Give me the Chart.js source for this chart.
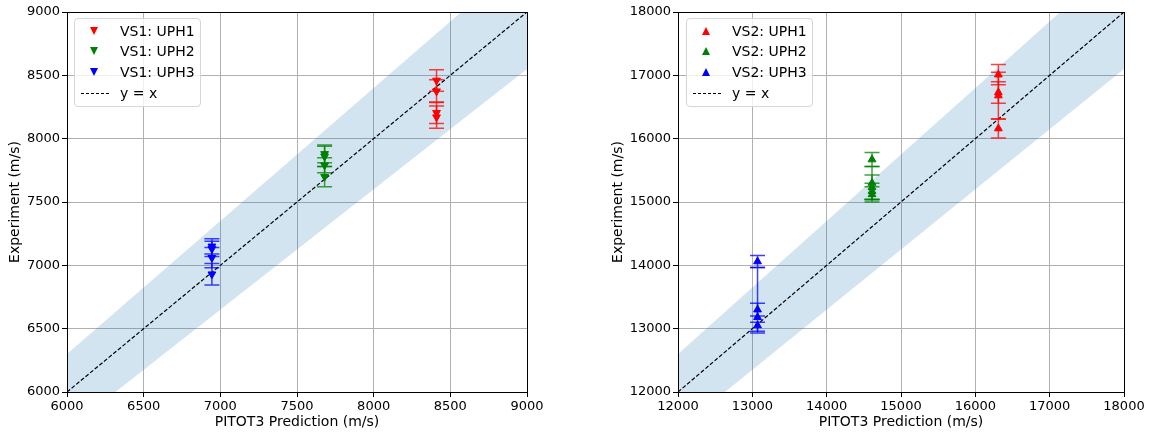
<!DOCTYPE html>
<html>
<head>
<meta charset="utf-8">
<script src="https://cdn.jsdelivr.net/npm/chart.js@4"></script>
<style>
  body { margin: 0; background: #fff; }
  #wrap { position: relative; width: 1150px; height: 432px; font-family: 'DejaVu Sans', sans-serif; }
  canvas { position: absolute; top: 0; }
  .legend { position: absolute; top: 18px; width: 127px; height: 89px; border: 1px solid #d6d6d6;
            border-radius: 4px; background: rgba(255,255,255,0.8); box-sizing: border-box; }
  .row { position: absolute; left: 0; height: 20px; line-height: 20px; font-size: 14px; color: #000; white-space: nowrap; }
  .row span { position: absolute; left: 45px; top: 0; }
  .tri { position: absolute; left: 15px; top: 6px; width: 0; height: 0;
         border-left: 4px solid transparent; border-right: 4px solid transparent; }
  .down { border-top: 8px solid; }
  .up { border-bottom: 8px solid; }
  .dash { position: absolute; left: 6px; top: 10px; width: 28px; border-top: 1.3px dashed #000; }
</style>
</head>
<body>
<div id="wrap">
  <canvas id="leftChart" width="575" height="432" style="left:0"></canvas>
  <canvas id="rightChart" width="575" height="432" style="left:575px"></canvas>
  <div class="legend" id="leftLegend" style="left:74px"></div>
  <div class="legend" id="rightLegend" style="left:686px"></div>
</div>
<script>
//series names and colours
const vs1Names = ["VS1: UPH1", "VS1: UPH2", "VS1: UPH3"];
const vs2Names = ["VS2: UPH1", "VS2: UPH2", "VS2: UPH3"];
const groupColors = ["#ff0000", "#008000", "#0000ff"];

//left chart (VS1) values, errors are +/- or [below, above]
const vs1X = [8410, 7680, 6945];
const vs1Uph1 = [8460, 8375, 8205, 8170];
const vs1Uph1Err = [85, 90, 85, 88];
const vs1Uph2 = [7880, 7860, 7790, 7700];
const vs1Uph2Err = [70, 80, 60, 80];
const vs1Uph3 = [7150, 7130, 7060, 6930];
const vs1Uph3Err = [60, 60, 80, 85];

//right chart (VS2) values
const vs2X = [16310, 14610, 13070];
const vs2Uph1 = [17010, 16730, 16680, 16160];
const vs2Uph1Err = [160, 170, 370, 150];
const vs2Uph2 = [15670, 15300, 15230, 15170, 15120];
const vs2Uph2Err = [110, 260, 195, 125, 120];
const vs2Uph3 = [14060, 13300, 13180, 13050];
const vs2Uph3Err = [95, [100, 665], 220, [120, 50]];

//y = x line and the shaded band around it (end points)
const vs1LineX = [6000, 9000];
const vs1BandLo = [5700, 8550];
const vs1BandHi = [6300, 9450];
const vs2LineX = [12000, 18000];
const vs2BandLo = [11400, 17100];
const vs2BandHi = [12600, 18900];

//axis ranges and ticks
const vs1Range = [6000, 9000, 500];
const vs2Range = [12000, 18000, 1000];

Chart.defaults.font.family = "'DejaVu Sans', sans-serif";
Chart.defaults.color = "#000";

//draws the error bars just after the y = x line, so markers end up on top
const errorBars = {
  id: "errorBars",
  afterDatasetDraw(chart, args) {
    if (chart.data.datasets[args.index].label !== "y = x") return;
    const ctx = chart.ctx;
    const xs = chart.scales.x, ys = chart.scales.y;
    const area = chart.chartArea;
    ctx.save();
    ctx.beginPath();
    ctx.rect(area.left, area.top, area.right - area.left, area.bottom - area.top);
    ctx.clip();
    chart.data.datasets.forEach(ds => {
      if (!ds.errors) return;
      ctx.strokeStyle = ds.backgroundColor;
      ctx.globalAlpha = 0.75;
      ctx.lineWidth = 1.5;
      ds.data.forEach((p, i) => {
        const e = ds.errors[i];
        const below = Array.isArray(e) ? e[0] : e;
        const above = Array.isArray(e) ? e[1] : e;
        const px = xs.getPixelForValue(p.x);
        const top = ys.getPixelForValue(p.y + above);
        const bot = ys.getPixelForValue(p.y - below);
        ctx.beginPath();
        ctx.moveTo(px, top); ctx.lineTo(px, bot);
        ctx.moveTo(px - 7.5, top); ctx.lineTo(px + 7.5, top);
        ctx.moveTo(px - 7.5, bot); ctx.lineTo(px + 7.5, bot);
        ctx.stroke();
      });
    });
    ctx.restore();
  }
};

//black frame round the plot area
const frame = {
  id: "frame",
  afterDraw(chart) {
    const a = chart.chartArea, ctx = chart.ctx;
    ctx.save();
    ctx.strokeStyle = "#000";
    ctx.lineWidth = 1;
    ctx.strokeRect(Math.round(a.left) + 0.5, Math.round(a.top) + 0.5,
      Math.round(a.right - a.left), Math.round(a.bottom - a.top));
    ctx.restore();
  }
};

function pts(x, ys) {
  return ys.map(y => ({ x: x, y: y }));
}

function makeChart(id, names, xs, series, errs, lineX, bandLo, bandHi, range, rotation, pad, yWidth) {
  const datasets = [];
  series.forEach((s, i) => {
    datasets.push({
      label: names[i],
      type: "scatter",
      data: pts(xs[i], s),
      errors: errs[i],
      backgroundColor: groupColors[i],
      borderColor: groupColors[i],
      pointStyle: "triangle",
      rotation: rotation,
      pointRadius: 4.5,
      borderWidth: 1
    });
  });
  datasets.push({
    label: "y = x",
    type: "line",
    data: lineX.map(v => ({ x: v, y: v })),
    borderColor: "#000",
    borderWidth: 1.2,
    borderDash: [4, 2],
    pointRadius: 0,
    fill: false
  });
  datasets.push({
    label: "bandLo",
    type: "line",
    data: lineX.map((v, i) => ({ x: v, y: bandLo[i] })),
    borderWidth: 0,
    pointRadius: 0,
    fill: false
  });
  datasets.push({
    label: "bandHi",
    type: "line",
    data: lineX.map((v, i) => ({ x: v, y: bandHi[i] })),
    borderWidth: 0,
    pointRadius: 0,
    backgroundColor: "rgba(31,119,180,0.2)",
    fill: "-1"
  });

  const axis = (title, isY) => ({
    type: "linear",
    min: range[0],
    max: range[1],
    afterFit: s => { if (isY) s.width = yWidth; else s.height = 40; },
    ticks: {
      stepSize: range[2],
      padding: 2,
      font: { size: 13 },
      callback: v => String(v)
    },
    grid: { color: "#b0b0b0", lineWidth: 1, tickLength: 5, tickColor: "#000" },
    border: { color: "#000", width: 1 },
    title: { display: true, text: title, font: { size: 14 }, padding: isY ? { top: 7, bottom: 0 } : { top: 0, bottom: 1 } }
  });

  return new Chart(document.getElementById(id), {
    type: "scatter",
    data: { datasets: datasets },
    options: {
      responsive: false,
      animation: false,
      events: [],
      layout: { padding: pad },
      plugins: { legend: { display: false }, tooltip: { enabled: false } },
      scales: {
        x: axis("PITOT3 Prediction (m/s)", false),
        y: axis("Experiment (m/s)", true)
      }
    },
    plugins: [errorBars, frame]
  });
}

makeChart("leftChart", vs1Names, vs1X, [vs1Uph1, vs1Uph2, vs1Uph3], [vs1Uph1Err, vs1Uph2Err, vs1Uph3Err],
  vs1LineX, vs1BandLo, vs1BandHi, vs1Range, 180, { top: 12, right: 48, left: 0, bottom: 0 }, 67);
makeChart("rightChart", vs2Names, vs2X, [vs2Uph1, vs2Uph2, vs2Uph3], [vs2Uph1Err, vs2Uph2Err, vs2Uph3Err],
  vs2LineX, vs2BandLo, vs2BandHi, vs2Range, 0, { top: 12, right: 26, left: 28, bottom: 0 }, 75);

//legend boxes
function fillLegend(id, names, dir) {
  const box = document.getElementById(id);
  const tops = [2, 22, 43, 64];
  names.forEach((n, i) => {
    const row = document.createElement("div");
    row.className = "row";
    row.style.top = tops[i] + "px";
    row.innerHTML = '<div class="tri ' + dir + '" style="color:' + groupColors[i] + '"></div><span>' + n + '</span>';
    box.appendChild(row);
  });
  const row = document.createElement("div");
  row.className = "row";
  row.style.top = tops[3] + "px";
  row.innerHTML = '<div class="dash"></div><span>y = x</span>';
  box.appendChild(row);
}
fillLegend("leftLegend", vs1Names, "down");
fillLegend("rightLegend", vs2Names, "up");
</script>
</body>
</html>
